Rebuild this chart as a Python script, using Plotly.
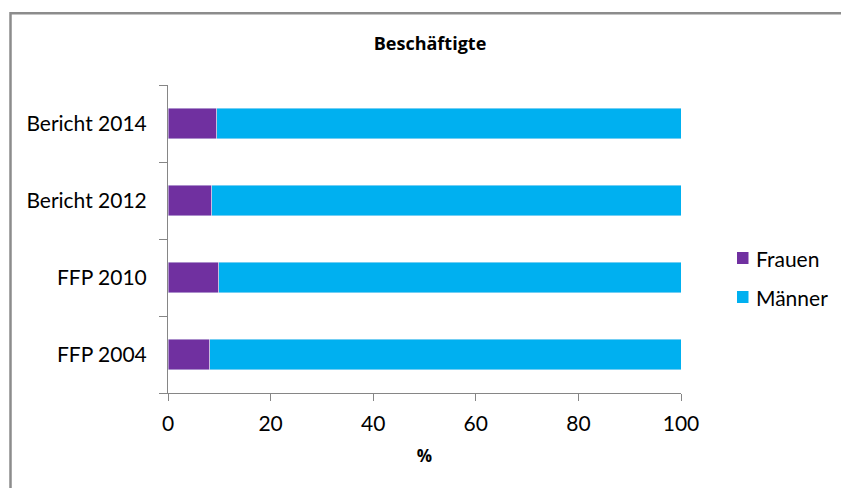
import plotly.graph_objects as go

# Share of employees by gender, in percent
categories = ["FFP 2004", "FFP 2010", "Bericht 2012", "Bericht 2014"]
frauen = [8.1, 9.9, 8.5, 9.5]
maenner = [91.9, 90.1, 91.5, 90.5]
x_ticks = [0, 20, 40, 60, 80, 100]
series_names = ["Frauen", "Männer"]
series_colors = ["#7030A0", "#00B0F0"]

W, H = 841, 488
L, R, T, B = 168, 160, 85, 95
pw, ph = W - L - R, H - T - B

def px_x(p):
    return (p - L) / pw

def px_y(p):
    return (H - B - p) / ph

FONT = "Lato, Calibri, Carlito, sans-serif"
TITLE_FONT = "'Open Sans', sans-serif"
GRAY = "#868686"

fig = go.Figure()
for name, vals, col in zip(series_names, [frauen, maenner], series_colors):
    fig.add_trace(go.Bar(y=categories, x=vals, name=name, orientation="h",
                         marker_color=col, showlegend=False))

# Legend drawn as colored squares with text labels to the right of the plot
shapes = []
annotations = []
legend_rows = [258, 297]
for name, col, yc in zip(series_names, series_colors, legend_rows):
    shapes.append(dict(type="rect", xref="paper", yref="paper",
                       x0=px_x(737), x1=px_x(748.5), y0=px_y(yc + 6), y1=px_y(yc - 6),
                       fillcolor=col, line=dict(width=0)))
    annotations.append(dict(text=name, xref="paper", yref="paper",
                            x=px_x(754), y=px_y(yc), xanchor="left", yanchor="middle",
                            showarrow=False,
                            font=dict(family=FONT, size=21, color="#000000")))

# Outer chart frame (left and top edges)
shapes.append(dict(type="path", xref="paper", yref="paper",
                   path=f"M {px_x(10.5)} {px_y(495)} L {px_x(10.5)} {px_y(13.3)} L {px_x(850)} {px_y(13.3)}",
                   line=dict(color="#8c8c8c", width=2.5)))

fig.update_layout(
    width=W, height=H,
    margin=dict(l=L, r=R, t=T, b=B, pad=0, autoexpand=False),
    barmode="stack", bargap=0.6,
    plot_bgcolor="white", paper_bgcolor="white",
    font=dict(family=FONT, size=21, color="#000000"),
    title=dict(text="<b>Beschäftigte</b>", x=430 / W, xanchor="center",
               y=1 - 44 / H, yanchor="middle",
               font=dict(family=TITLE_FONT, size=18, color="#000000")),
    showlegend=False,
    xaxis=dict(range=[0, 100], tickvals=x_ticks, showgrid=False, zeroline=False,
               showline=True, linecolor=GRAY, linewidth=1,
               ticks="outside", ticklen=7, tickcolor=GRAY, tickwidth=1,
               ticklabelstandoff=5,
               tickfont=dict(family=FONT, size=21, color="#000000"),
               title=dict(text="<b>%</b>", standoff=15,
                          font=dict(family=TITLE_FONT, size=17, color="#000000"))),
    yaxis=dict(type="category", categoryorder="array", categoryarray=categories,
               showgrid=False, zeroline=False,
               showline=True, linecolor=GRAY, linewidth=1,
               ticks="outside", ticklen=8, tickcolor=GRAY, tickwidth=1,
               tickson="boundaries", ticklabelstandoff=16,
               tickfont=dict(family=FONT, size=21, color="#000000")),
    shapes=shapes,
    annotations=annotations,
)

fig.write_html("out.html")
